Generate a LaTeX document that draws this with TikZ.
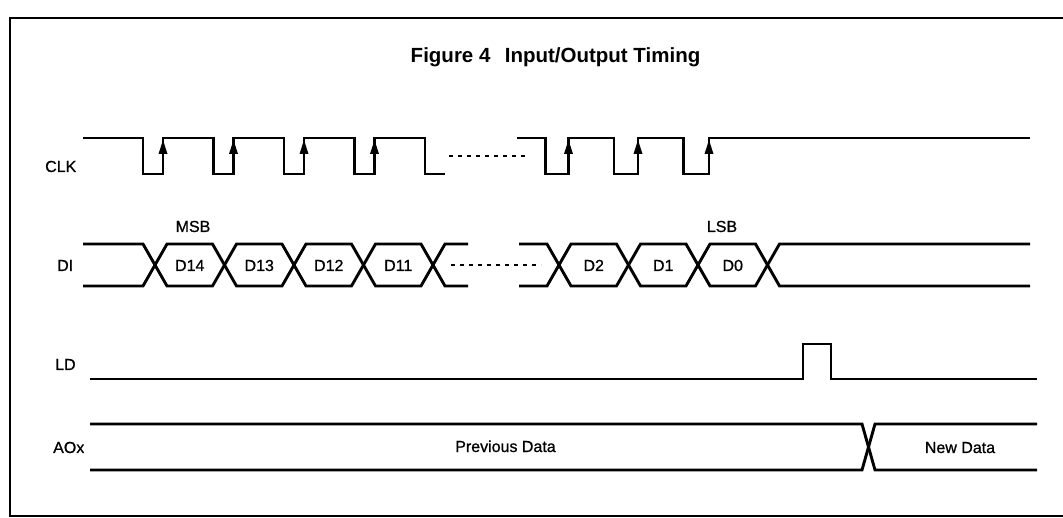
\documentclass[tikz,border=0pt]{standalone}
\usepackage{fontspec}
\setmainfont{Liberation Sans}
\newfontfamily\lblfont[FakeBold=0.8]{Liberation Sans}
\begin{document}
\begin{tikzpicture}[x=1pt,y=-1pt,
  wave/.style={line width=2.9pt, line join=miter},
  dotline/.style={line width=2.6pt, dash pattern=on 4pt off 5pt},
  frameline/.style={line width=1.9pt},
  sig/.style={anchor=base west, inner sep=0pt, font=\lblfont\fontsize{16}{18}\selectfont},
  lbl/.style={anchor=base, inner sep=0pt, font=\lblfont\fontsize{16}{18}\selectfont},
  ttl/.style={anchor=base, inner sep=0pt, font=\fontsize{20.5}{24}\selectfont\bfseries},
  tip/.style={fill=black}]
\useasboundingbox (0,0) rectangle (1063,518);
\fill[white] (0,0) rectangle (1063,518);
% frame
\draw[frameline] (1080,18) -- (10,18) -- (10,516) -- (1080,516);
% title
\node[ttl] (title) at (555.5,63) {Figure 4\hspace{0.7em}Input/Output Timing};
% signal names
\node[sig] (clk) at (45,172) {CLK};
\node[sig] (di) at (57,271) {DI};
\node[sig] (ld) at (55,370) {LD};
\node[sig] (aox) at (53,453) {AOx};
% CLK
\draw[wave] (83,138) -| (143,174) -| (163,138) -| (213.5,174) -| (233.5,138) -| (284,174) -| (304,138) -| (354.5,174) -| (374.5,138) -| (425,174) -- (445,174);
\draw[wave] (517,138) -| (545.5,174) -| (568.5,138) -| (614,174) -| (638,138) -| (683.5,174) -| (709,138) -- (1030,138);
\draw[dotline] (449,156) -- (528,156);
\foreach \x in {163,233.5,304,374.5,568.5,638,709}
  \fill[tip] (\x,140) -- (\x-4.5,154) -- (\x+4.5,154) -- cycle;
% DI
\draw[wave] (83,244) -- (143,244) -- (167,286) -- (212.5,286) -- (236.5,244) -- (282,244) -- (306,286) -- (351.5,286) -- (375.5,244) -- (421,244) -- (445,286) -- (468,286);
\draw[wave] (83,286) -- (143,286) -- (167,244) -- (212.5,244) -- (236.5,286) -- (282,286) -- (306,244) -- (351.5,244) -- (375.5,286) -- (421,286) -- (445,244) -- (468,244);
\draw[wave] (519,244) -- (547,244) -- (571,286) -- (616.5,286) -- (640.5,244) -- (686,244) -- (710,286) -- (755.5,286) -- (779.5,244) -- (1030,244);
\draw[wave] (519,286) -- (547,286) -- (571,244) -- (616.5,244) -- (640.5,286) -- (686,286) -- (710,244) -- (755.5,244) -- (779.5,286) -- (1030,286);
\draw[dotline] (451,265) -- (541,265);
\node[lbl] (msb) at (193,232) {MSB};
\node[lbl] (lsb) at (722,232) {LSB};
\node[lbl] (d14) at (189.75,271) {D14};
\node[lbl] (d13) at (259.25,271) {D13};
\node[lbl] (d12) at (328.75,271) {D12};
\node[lbl] (d11) at (398.25,271) {D11};
\node[lbl] (d2) at (593.75,271) {D2};
\node[lbl] (d1) at (663.25,271) {D1};
\node[lbl] (d0) at (732.75,271) {D0};
% LD
\draw[wave] (90,379) -- (803,379) -- (803,344) -- (831,344) -- (831,379) -- (1037,379);
% AOx
\draw[wave] (90,424) -- (862,424) -- (875,470) -- (1037,470);
\draw[wave] (90,470) -- (862,470) -- (875,424) -- (1037,424);
\node[lbl] (prev) at (505.5,452) {Previous Data};
\node[lbl] (new) at (960,453) {New Data};
\end{tikzpicture}
\end{document}
